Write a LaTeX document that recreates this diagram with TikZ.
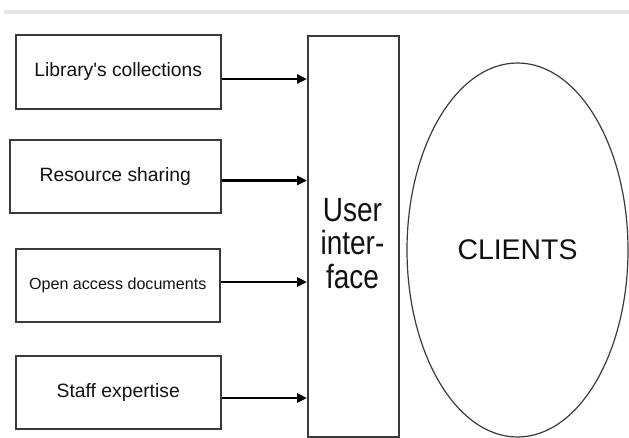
\documentclass[tikz,border=0pt]{standalone}
\usepackage{fontspec}
\setmainfont{Liberation Sans}
\usetikzlibrary{arrows.meta,shapes.geometric}
\definecolor{edge}{HTML}{3A3A3A}
\definecolor{ink}{HTML}{111111}
\tikzset{
  srcbox/.style={draw=edge, line width=1.5pt, rectangle, inner sep=0pt,
    anchor=north west, text=ink, font=\fontsize{19.3}{23}\selectfont},
  feed/.style={line width=2.8pt, black, -{Triangle[length=10pt,width=9pt]}},
}
\begin{document}
\begin{tikzpicture}[x=1pt,y=-1pt]
  \useasboundingbox (0,0) rectangle (629,437);
  % thin grey rule along the top
  \draw[line width=4pt, black!10] (4,11.5) -- (629,11.5);

  % information sources
  \node[srcbox, minimum width=205pt, minimum height=74pt] (b1) at (15,34) {Library\textquotesingle s collections};
  \node[srcbox, minimum width=211pt, minimum height=73pt] (b2) at (9,139) {Resource sharing};
  \node[srcbox, minimum width=204pt, minimum height=73pt, font=\fontsize{16.1}{19}\selectfont] (b3) at (15,248) {Open access documents};
  \node[srcbox, minimum width=205pt, minimum height=73pt] (b4) at (15,355) {Staff expertise};

  % user interface column
  \node[draw=edge, line width=1.5pt, rectangle, inner sep=0pt, anchor=north west,
        minimum width=91pt, minimum height=401pt] (ui) at (307,35) {};
  \node[text=ink, inner sep=0pt, font=\fontsize{28}{26}\selectfont] (uitext) at (352.5,248)
    {\scalebox{1}[1.2]{\begin{tabular}{@{}c@{}}User\\inter-\\face\end{tabular}}};

  % clients
  \node[ellipse, draw=edge, line width=1.2pt, inner sep=0pt, minimum width=221pt,
        minimum height=374pt, text=ink, font=\fontsize{28.4}{34}\selectfont] (cl) at (517.5,250) {\raisebox{-3pt}{CLIENTS}};

  % feed rows
  \coordinate (r1) at (0,79);
  \coordinate (r2) at (0,180.5);
  \coordinate (r3) at (0,282);
  \coordinate (r4) at (0,398);
  \draw[feed] (b1.east |- r1) -- (ui.west |- r1);
  \draw[feed] (b2.east |- r2) -- (ui.west |- r2);
  \draw[feed] (b3.east |- r3) -- (ui.west |- r3);
  \draw[feed] (b4.east |- r4) -- (ui.west |- r4);
\end{tikzpicture}
\end{document}
